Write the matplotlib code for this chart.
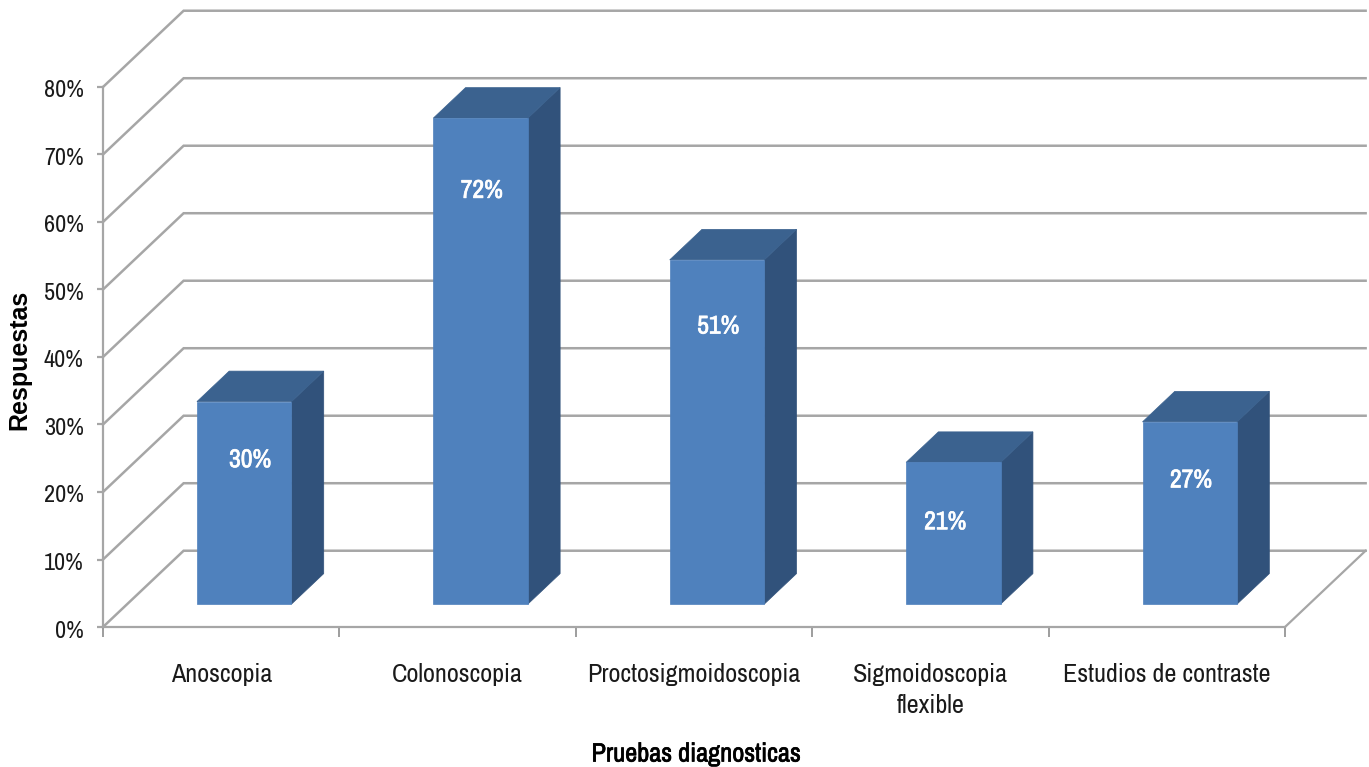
import matplotlib
matplotlib.use('Agg')
import matplotlib.pyplot as plt
import matplotlib.patheffects as pe
from matplotlib.patches import Polygon
from matplotlib.transforms import ScaledTranslation
from matplotlib import font_manager
import numpy as np

categories = ['Anoscopia', 'Colonoscopia', 'Proctosigmoidoscopia',
              'Sigmoidoscopia\nflexible', 'Estudios de contraste']
values = [30, 72, 51, 21, 27]
y_ticks = [0, 10, 20, 30, 40, 50, 60, 70, 80]

# hand placed data labels: shift from the bar top (in %) and from the bar centre (in categories)
label_drop = [8.6, 10.7, 9.8, 8.8, 8.6]
label_shift = [0.025, 0.005, 0.005, -0.035, 0.005]

# use a narrow face when there is one
have = set(f.name for f in font_manager.fontManager.ttflist)
NARROW = [f for f in ['Archivo Narrow', 'Roboto Condensed', 'Liberation Sans'] if f in have]
GRID = '#a6a6a6'
FRONT = '#4f81bd'
SIDE = '#31527b'
TOP = '#3b628f'

# 3d look: depth 0 is the front edge of the floor, depth 1 the back wall
DEPTH_X = 0.341
DEPTH_Y = 11.3
BAR_WIDTH = 0.4
BAR_D0 = 0.3
BAR_D1 = 0.7


def proj(x, y, d):
    return (x + d * DEPTH_X, y + d * DEPTH_Y)


def thicken(color):
    # the narrow face has no bold cut here, so fatten it with a thin stroke
    return [pe.withStroke(linewidth=0.5, foreground=color)]


fig = plt.figure(figsize=(13.69, 7.67), dpi=100)
ax = fig.add_axes([103 / 1369, 1 - 627 / 767, 1182 / 1369, 540 / 767])
ax.set_xlim(0, 5)
ax.set_ylim(0, 80)
ax.patch.set_alpha(0)

for s in ['top', 'right']:
    ax.spines[s].set_visible(False)
for s in ['left', 'bottom']:
    ax.spines[s].set_color(GRID)
    ax.spines[s].set_linewidth(1.6)

# walls and floor
for v in y_ticks:
    pts = [proj(0, v, 0), proj(0, v, 1), proj(5, v, 1)]
    ax.plot(*zip(*pts), color=GRID, lw=1.8, clip_on=False, zorder=1, solid_joinstyle='miter')
ax.plot(*zip(proj(5, 0, 0), proj(5, 0, 1)), color=GRID, lw=1.6, clip_on=False, zorder=1)

for i, v in enumerate(values):
    x0 = i + 0.495 - BAR_WIDTH / 2
    x1 = x0 + BAR_WIDTH
    front = [proj(x0, 0, BAR_D0), proj(x1, 0, BAR_D0), proj(x1, v, BAR_D0), proj(x0, v, BAR_D0)]
    side = [proj(x1, 0, BAR_D0), proj(x1, 0, BAR_D1), proj(x1, v, BAR_D1), proj(x1, v, BAR_D0)]
    top = [proj(x0, v, BAR_D0), proj(x1, v, BAR_D0), proj(x1, v, BAR_D1), proj(x0, v, BAR_D1)]
    ax.add_patch(Polygon(side, closed=True, fc=SIDE, ec=SIDE, lw=0.5, zorder=3, clip_on=False))
    ax.add_patch(Polygon(top, closed=True, fc=TOP, ec=TOP, lw=0.5, zorder=3, clip_on=False))
    ax.add_patch(Polygon(front, closed=True, fc=FRONT, ec=FRONT, lw=0.5, zorder=4, clip_on=False))
    lx, ly = proj(i + 0.495 + label_shift[i], v - label_drop[i], BAR_D0)
    ax.text(lx, ly, '%d%%' % v, color='white', ha='center', va='center',
            fontsize=18.5, family=NARROW, zorder=5, path_effects=thicken('white'))

ax.set_yticks(y_ticks)
ax.set_yticklabels(['%d%%' % v for v in y_ticks], family=NARROW, fontsize=17.4, color='#1a1a1a')
ax.tick_params(axis='y', length=4, width=1.6, color=GRID, pad=10)
# labels sit a little under their ticks
for t in ax.get_yticklabels():
    t.set_transform(t.get_transform() + ScaledTranslation(0, -2 / 100, fig.dpi_scale_trans))

ax.set_xticks(np.arange(0, 6))
ax.set_xticklabels([])
ax.tick_params(axis='x', which='major', length=7, width=1.2, color='#8c8c8c')
ax.set_xticks(np.arange(0.5, 5), minor=True)
ax.set_xticklabels(categories, minor=True, family=NARROW, fontsize=18.8, color='#1a1a1a', linespacing=1.4)
ax.tick_params(axis='x', which='minor', length=0, pad=26)

ax.set_xlabel('Pruebas diagnosticas', family=NARROW, fontsize=19, color='black', path_effects=thicken('black'))
ax.xaxis.set_label_coords(0.502, (627 - 754) / 540, transform=ax.transAxes)
ax.xaxis.label.set_va('center')
ax.set_ylabel('Respuestas', family='Liberation Sans', fontsize=18, fontweight='bold', color='black')
ax.yaxis.set_label_coords((19 - 103) / 1182, (627 - 360) / 540, transform=ax.transAxes)
ax.yaxis.label.set_va('center')

plt.savefig('out.png', dpi=100)
